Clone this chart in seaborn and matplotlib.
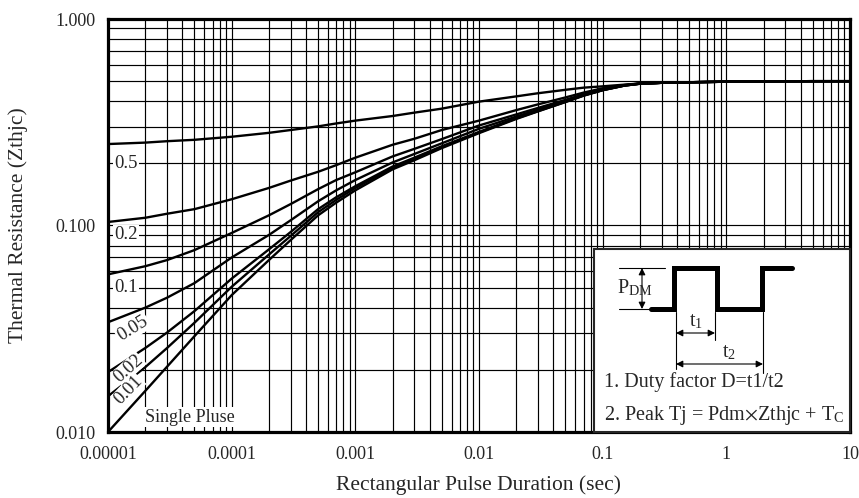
import numpy as np
import pandas as pd
import matplotlib
matplotlib.use("Agg")
import matplotlib.pyplot as plt
import seaborn as sns

# Pulse duration (s) at which each curve is sampled
pulse_t = [1e-5, 2e-5, 3e-5, 5e-5, 1e-4, 2e-4, 3e-4, 5e-4, 7e-4, 1e-3, 2e-3, 3e-3, 5e-3,
           1e-2, 2e-2, 3e-2, 5e-2, 7e-2, 0.1, 0.15, 0.2, 0.3, 0.5, 1, 2, 5, 10]

# Transient thermal impedance Zthjc for each duty factor
z_d50 = [0.248, 0.252, 0.256, 0.260, 0.269, 0.281, 0.290, 0.302, 0.312, 0.322, 0.339, 0.352,
         0.368, 0.398, 0.422, 0.437, 0.454, 0.465, 0.472, 0.481, 0.487, 0.491, 0.494, 0.497,
         0.499, 0.500, 0.500]
z_d20 = [0.104, 0.109, 0.114, 0.120, 0.134, 0.152, 0.165, 0.182, 0.196, 0.213, 0.246, 0.263,
         0.290, 0.322, 0.362, 0.386, 0.417, 0.440, 0.462, 0.479, 0.487, 0.491, 0.494, 0.497,
         0.499, 0.500, 0.500]
z_d10 = [0.058, 0.0635, 0.068, 0.076, 0.092, 0.112, 0.127, 0.150, 0.166, 0.181, 0.216, 0.235,
         0.262, 0.305, 0.345, 0.371, 0.406, 0.432, 0.456, 0.478, 0.487, 0.491, 0.494, 0.497,
         0.499, 0.500, 0.500]
z_d05 = [0.034, 0.040, 0.0447, 0.0526, 0.070, 0.090, 0.106, 0.131, 0.148, 0.166, 0.202, 0.222,
         0.250, 0.294, 0.337, 0.364, 0.401, 0.429, 0.454, 0.477, 0.486, 0.491, 0.494, 0.497,
         0.499, 0.500, 0.500]
z_d02 = [0.0195, 0.0255, 0.0303, 0.0385, 0.0553, 0.0766, 0.093, 0.120, 0.137, 0.155, 0.193, 0.213,
         0.242, 0.284, 0.331, 0.360, 0.398, 0.427, 0.453, 0.476, 0.486, 0.491, 0.494, 0.497,
         0.499, 0.500, 0.500]
z_d01 = [0.0149, 0.0206, 0.0255, 0.0338, 0.0505, 0.0723, 0.089, 0.116, 0.133, 0.152, 0.190, 0.210,
         0.240, 0.282, 0.330, 0.358, 0.397, 0.426, 0.452, 0.476, 0.486, 0.491, 0.494, 0.497,
         0.499, 0.500, 0.500]
z_single = [0.0100, 0.0158, 0.0207, 0.0291, 0.046, 0.068, 0.085, 0.112, 0.129, 0.148, 0.187,
            0.207, 0.237, 0.280, 0.328, 0.357, 0.396, 0.425, 0.452, 0.476, 0.486, 0.491, 0.494,
            0.497, 0.499, 0.500, 0.500]

curve_names = ["0.5", "0.2", "0.1", "0.05", "0.02", "0.01", "Single Pluse"]
curve_values = [z_d50, z_d20, z_d10, z_d05, z_d02, z_d01, z_single]

x_ticks = [1e-5, 1e-4, 1e-3, 1e-2, 1e-1, 1, 10]
x_tick_labels = ["0.00001", "0.0001", "0.001", "0.01", "0.1", "1", "10"]
y_ticks = [0.01, 0.1, 1.0]
y_tick_labels = ["0.010", "0.100", "1.000"]

df = pd.concat(
    [pd.DataFrame({"t": pulse_t, "z": vals, "curve": name})
     for name, vals in zip(curve_names, curve_values)],
    ignore_index=True,
)

sns.set_style("white")
plt.rcParams["font.family"] = ["Liberation Serif", "DejaVu Serif"]
plt.rcParams["mathtext.fontset"] = "stix"

W, H = 859, 498
fig = plt.figure(figsize=(W / 100, H / 100), dpi=100)
ax = fig.add_axes([108 / W, 1 - 432 / H, (850 - 108) / W, (432 - 19) / H])

sns.lineplot(data=df, x="t", y="z", hue="curve", palette=["black"] * len(curve_names),
             legend=False, linewidth=1.7, ax=ax, zorder=3)

ax.set_xscale("log")
ax.set_yscale("log")
ax.set_xlim(1e-5, 10)
ax.set_ylim(0.01, 1.0)
ax.set_xticks(x_ticks)
ax.set_xticklabels(x_tick_labels)
ax.set_yticks(y_ticks)
ax.set_yticklabels(y_tick_labels)
ax.grid(True, which="both", color="black", linewidth=0.85, zorder=1)
ax.tick_params(which="both", length=0, labelsize=13)
ax.tick_params(axis="x", pad=10)
ax.tick_params(axis="y", pad=9)
for s in ax.spines.values():
    s.set_linewidth(2.3)
    s.set_color("black")
    s.set_zorder(5)

ax.set_xlabel("Rectangular Pulse Duration (sec)", fontsize=15.5, labelpad=9)
ax.set_ylabel("Thermal Resistance (Zthjc)", fontsize=15.5, labelpad=20)

# Duty-factor labels on the left side of the curves
lab_box = dict(facecolor="white", edgecolor="none", pad=1.0)
ax.text(1.40e-5, 0.2, "0.5", fontsize=13.5, ha="center", va="center", bbox=lab_box, zorder=4)
ax.text(1.40e-5, 0.09, "0.2", fontsize=13.5, ha="center", va="center", bbox=lab_box, zorder=4)
ax.text(1.40e-5, 0.05, "0.1", fontsize=13.5, ha="center", va="center", bbox=lab_box, zorder=4)
ax.text(1.58e-5, 0.0318, "0.05", fontsize=13.5, ha="center", va="center", rotation=32,
        bbox=lab_box, zorder=4)
ax.text(1.47e-5, 0.0203, "0.02", fontsize=13.5, ha="center", va="center", rotation=42,
        bbox=dict(facecolor="white", edgecolor="none", pad=0.1), zorder=4)
ax.text(1.47e-5, 0.0160, "0.01", fontsize=13.5, ha="center", va="center", rotation=46,
        bbox=dict(facecolor="white", edgecolor="none", pad=0.1), zorder=4)
ax.text(4.6e-5, 0.0118, "Single Pluse", fontsize=13, ha="center", va="center",
        bbox=lab_box, zorder=4)

# Inset: pulse train definition, drawn in its own pixel-like coordinates
ins = fig.add_axes([594 / W, 1 - 432 / H, (850 - 594) / W, (432 - 249) / H])
ins.set_xlim(594, 850)
ins.set_ylim(432, 249)
ins.set_xticks([])
ins.set_yticks([])
ins.set_facecolor("white")
for s in ins.spines.values():
    s.set_linewidth(1.5)
ins.set_zorder(6)

wave_x = [651, 674, 674, 717, 717, 762, 762, 792]
wave_y = [309, 309, 268, 268, 309, 309, 268, 268]
ins.plot(wave_x, wave_y, color="black", linewidth=3.6, solid_joinstyle="miter")

arrow_kw = dict(arrowstyle="<|-|>", color="black", lw=0.8, mutation_scale=10,
                shrinkA=0, shrinkB=0)

# P_DM dimension
ins.plot([619, 665], [268, 268], color="black", linewidth=0.8)
ins.plot([619, 665], [309, 309], color="black", linewidth=0.8)
ins.annotate("", xy=(642, 268), xytext=(642, 309), arrowprops=arrow_kw)
ins.text(617, 288, r"P$_{\mathregular{DM}}$", fontsize=14.5, ha="left", va="center")

# t1 and t2 dimensions
ins.plot([676, 676], [312, 369], color="black", linewidth=0.8)
ins.plot([715, 715], [312, 340], color="black", linewidth=0.8)
ins.plot([763, 763], [312, 373], color="black", linewidth=0.8)
ins.annotate("", xy=(676, 333), xytext=(715, 333), arrowprops=arrow_kw)
ins.annotate("", xy=(676, 364), xytext=(763, 364), arrowprops=arrow_kw)
ins.text(696, 322, r"t$_{\mathregular{1}}$", fontsize=14.5, ha="center", va="center")
ins.text(729, 353, r"t$_{\mathregular{2}}$", fontsize=14.5, ha="center", va="center")

ins.text(604, 382, "1. Duty factor D=t1/t2", fontsize=14.5, ha="left", va="center")
ins.text(604, 415, r"2. Peak Tj = Pdm$\times$Zthjc + T$_{\mathregular{C}}$", fontsize=14.5,
         ha="left", va="center")

fig.savefig("out.png", dpi=100)
